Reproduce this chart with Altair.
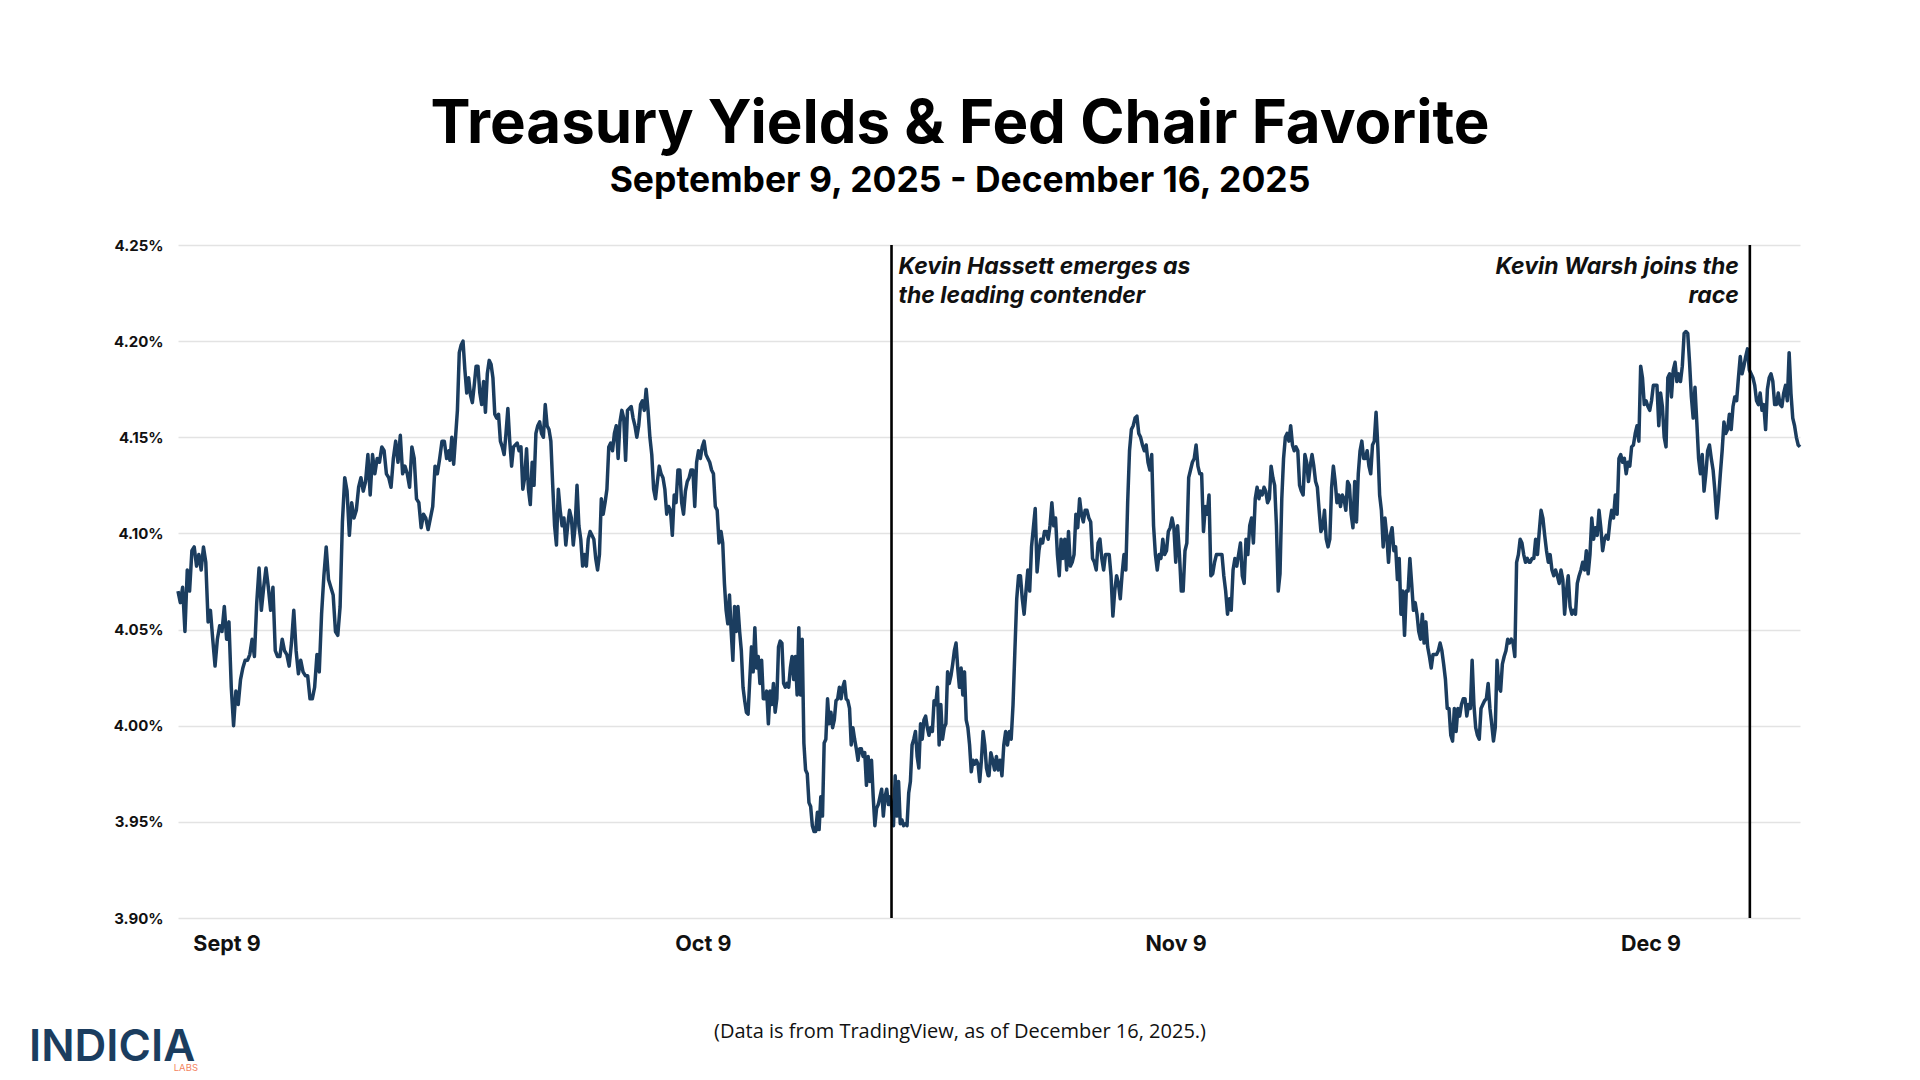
"""Treasury yields vs Fed chair favourite line chart."""

import altair as alt
import numpy as np
import pandas as pd

# 10Y yield (%), in six consecutive stretches of the window
seg_1 = [
    4.070, 4.064, 4.072, 4.049, 4.081, 4.070, 4.091, 4.093, 4.083, 4.089, 4.081, 4.093,
    4.085, 4.054, 4.060, 4.045, 4.031, 4.045, 4.052, 4.049, 4.062, 4.045, 4.054, 4.020,
    4.000, 4.018, 4.011, 4.024, 4.030, 4.034, 4.034, 4.037, 4.045, 4.036, 4.064, 4.082,
    4.060, 4.072, 4.082, 4.072, 4.060, 4.072, 4.039, 4.036, 4.036, 4.045, 4.039, 4.037,
    4.031, 4.043, 4.060, 4.039, 4.027, 4.034, 4.028, 4.026, 4.026, 4.014, 4.014, 4.020,
    4.037, 4.028, 4.058, 4.078, 4.093, 4.076, 4.072, 4.068, 4.049, 4.047, 4.062, 4.106,
    4.129, 4.122, 4.099, 4.116, 4.108, 4.112, 4.124, 4.129, 4.122, 4.127, 4.141, 4.120,
    4.141, 4.131, 4.139, 4.137, 4.145, 4.143, 4.131, 4.129, 4.124, 4.139, 4.148, 4.137,
    4.151, 4.131, 4.135, 4.131, 4.124, 4.145, 4.139, 4.118, 4.116, 4.103, 4.110, 4.108,
    4.102, 4.108, 4.114, 4.135, 4.131, 4.139, 4.148, 4.148, 4.139, 4.143,
]
seg_2 = [
    4.138, 4.150, 4.136, 4.150, 4.164, 4.194, 4.198, 4.200, 4.185, 4.173, 4.181, 4.172,
    4.168, 4.177, 4.187, 4.187, 4.173, 4.167, 4.179, 4.163, 4.183, 4.190, 4.188, 4.181,
    4.162, 4.160, 4.162, 4.148, 4.145, 4.141, 4.152, 4.165, 4.148, 4.135, 4.145, 4.146,
    4.147, 4.143, 4.145, 4.123, 4.129, 4.144, 4.123, 4.115, 4.137, 4.125, 4.152, 4.156,
    4.158, 4.152, 4.150, 4.167, 4.156, 4.154, 4.148, 4.125, 4.104, 4.094, 4.123, 4.112,
    4.104, 4.108, 4.094, 4.104, 4.112, 4.108, 4.094, 4.104, 4.125, 4.104, 4.097, 4.083,
    4.089, 4.083, 4.097, 4.101, 4.099, 4.097, 4.087, 4.081, 4.089, 4.118, 4.110, 4.116,
    4.123, 4.145, 4.147, 4.143, 4.152, 4.156, 4.139, 4.158, 4.164, 4.160, 4.138, 4.164,
    4.165, 4.166, 4.160, 4.156, 4.150, 4.156, 4.167, 4.169, 4.164, 4.175, 4.164, 4.150,
    4.141, 4.123, 4.118, 4.127, 4.135, 4.131, 4.129, 4.123, 4.110, 4.114, 4.112, 4.099,
    4.120, 4.116, 4.133, 4.133, 4.116, 4.110, 4.122, 4.127, 4.129, 4.133, 4.133, 4.114,
    4.137, 4.143, 4.139, 4.145, 4.148, 4.141, 4.139, 4.137, 4.133, 4.131, 4.114, 4.112,
    4.095,
]
seg_3 = [
    4.101, 4.095, 4.074, 4.060, 4.053, 4.068, 4.049, 4.034, 4.062, 4.049, 4.062, 4.049,
    4.039, 4.020, 4.013, 4.007, 4.006, 4.024, 4.041, 4.028, 4.051, 4.030, 4.036, 4.022,
    4.034, 4.014, 4.014, 4.018, 4.001, 4.018, 4.011, 4.022, 4.007, 4.014, 4.041, 4.044,
    4.043, 4.022, 4.020, 4.022, 4.020, 4.030, 4.036, 4.024, 4.036, 4.016, 4.051, 4.016,
    4.045, 3.991, 3.977, 3.975, 3.960, 3.958, 3.948, 3.945, 3.945, 3.955, 3.946, 3.963,
    3.953, 3.991, 3.993, 4.014, 4.001, 4.007, 3.999, 4.003, 4.013, 4.014, 4.020, 4.014,
    4.020, 4.023, 4.014, 4.013, 4.009, 3.990, 3.999, 3.993, 3.988, 3.982, 3.988, 3.988,
    3.984, 3.986, 3.969, 3.984, 3.971, 3.982, 3.963, 3.948, 3.957, 3.959, 3.963, 3.967,
    3.953, 3.963, 3.967, 3.959, 3.963, 3.957, 3.948, 3.974, 3.953, 3.971, 3.949, 3.951,
    3.948, 3.949, 3.948, 3.965, 3.971, 3.990, 3.993, 3.997, 3.984, 3.978, 4.001, 3.993,
    4.003, 4.005, 3.999, 3.995, 3.999, 3.997, 4.013, 4.011, 4.020, 3.990, 4.011, 3.993,
    3.999, 4.001, 4.028, 4.022, 4.026, 4.032, 4.039, 4.043, 4.030, 4.020, 4.030, 4.016,
    4.028, 4.003, 3.999, 3.990, 3.976, 3.982, 3.980, 3.982, 3.980, 3.971, 3.982, 3.997,
    3.990, 3.978, 3.974,
]
seg_4 = [
    3.974, 3.986, 3.982, 3.977, 3.984, 3.977, 3.982, 3.974, 3.990, 3.997, 3.990, 3.997,
    3.993, 4.011, 4.039, 4.066, 4.078, 4.078, 4.066, 4.058, 4.070, 4.081, 4.070, 4.093,
    4.103, 4.113, 4.080, 4.091, 4.097, 4.095, 4.101, 4.101, 4.097, 4.104, 4.116, 4.104,
    4.108, 4.089, 4.078, 4.097, 4.087, 4.097, 4.081, 4.101, 4.083, 4.085, 4.089, 4.110,
    4.103, 4.118, 4.110, 4.106, 4.112, 4.112, 4.108, 4.106, 4.087, 4.085, 4.081, 4.095,
    4.097, 4.087, 4.081, 4.089, 4.089, 4.089, 4.078, 4.057, 4.070, 4.078, 4.074, 4.066,
    4.079, 4.089, 4.081, 4.116, 4.143, 4.154, 4.156, 4.160, 4.161, 4.152, 4.150, 4.146,
    4.143, 4.146, 4.137, 4.133, 4.141, 4.104, 4.089, 4.081, 4.089, 4.087, 4.097, 4.089,
    4.091, 4.101, 4.103, 4.108, 4.103, 4.085, 4.104, 4.089, 4.070, 4.070, 4.091, 4.095,
    4.129, 4.133, 4.137, 4.139, 4.146, 4.135, 4.131, 4.131, 4.101, 4.114, 4.110, 4.120,
    4.078, 4.079, 4.085, 4.089, 4.089, 4.089, 4.089, 4.078, 4.070, 4.058, 4.066, 4.060,
    4.081, 4.087, 4.083, 4.089, 4.095, 4.078, 4.074, 4.097, 4.089, 4.104, 4.108, 4.095,
    4.118, 4.124, 4.118,
]
seg_5 = [
    4.122, 4.120, 4.124, 4.122, 4.116, 4.118, 4.135, 4.129, 4.125, 4.104, 4.070, 4.079,
    4.118, 4.139, 4.150, 4.152, 4.148, 4.156, 4.146, 4.143, 4.145, 4.143, 4.125, 4.122,
    4.120, 4.141, 4.137, 4.127, 4.135, 4.141, 4.135, 4.127, 4.124, 4.112, 4.101, 4.103,
    4.112, 4.097, 4.093, 4.097, 4.124, 4.135, 4.127, 4.116, 4.120, 4.114, 4.120, 4.118,
    4.112, 4.127, 4.125, 4.110, 4.103, 4.127, 4.106, 4.131, 4.143, 4.148, 4.139, 4.139,
    4.143, 4.135, 4.131, 4.146, 4.148, 4.163, 4.145, 4.120, 4.112, 4.093, 4.108, 4.099,
    4.085, 4.099, 4.103, 4.091, 4.093, 4.076, 4.087, 4.058, 4.070, 4.047, 4.070, 4.070,
    4.087, 4.074, 4.060, 4.064, 4.058, 4.049, 4.045, 4.058, 4.043, 4.054, 4.041, 4.036,
    4.030, 4.037, 4.037, 4.037, 4.039, 4.043, 4.039, 4.032, 4.024, 4.009, 4.009, 3.995,
    3.992, 4.009, 3.997, 4.009, 4.005, 4.011, 4.014, 4.014, 4.005, 4.011, 4.009, 4.034,
    4.011, 3.999, 3.995, 3.993, 4.009, 4.011, 4.013, 4.014, 4.022, 4.009, 4.001, 3.992,
    3.999, 4.034, 4.020, 4.018, 4.032, 4.036, 4.039, 4.045, 4.043, 4.045, 4.043, 4.036,
    4.085, 4.089, 4.097, 4.095, 4.089, 4.085, 4.087, 4.085,
]
seg_6 = [
    4.085, 4.087, 4.087, 4.097, 4.089, 4.101, 4.112, 4.108, 4.099, 4.091, 4.085, 4.089,
    4.081, 4.078, 4.081, 4.078, 4.074, 4.081, 4.076, 4.058, 4.070, 4.078, 4.062, 4.058,
    4.060, 4.058, 4.074, 4.078, 4.081, 4.085, 4.081, 4.091, 4.079, 4.089, 4.108, 4.097,
    4.103, 4.099, 4.112, 4.103, 4.091, 4.097, 4.099, 4.097, 4.106, 4.112, 4.108, 4.120,
    4.110, 4.139, 4.141, 4.137, 4.139, 4.131, 4.137, 4.135, 4.145, 4.146, 4.152, 4.156,
    4.148, 4.187, 4.181, 4.167, 4.169, 4.166, 4.164, 4.169, 4.177, 4.177, 4.177, 4.156,
    4.173, 4.166, 4.150, 4.145, 4.181, 4.183, 4.171, 4.185, 4.189, 4.179, 4.183, 4.179,
    4.187, 4.204, 4.205, 4.204, 4.189, 4.171, 4.160, 4.176, 4.158, 4.139, 4.131, 4.141,
    4.122, 4.131, 4.143, 4.146, 4.139, 4.133, 4.122, 4.108, 4.118, 4.131, 4.143, 4.158,
    4.152, 4.154, 4.162, 4.154, 4.166, 4.171, 4.169, 4.181, 4.192, 4.183, 4.187, 4.192,
    4.196, 4.185, 4.183, 4.181, 4.177, 4.169, 4.167, 4.173, 4.164, 4.167, 4.154, 4.175,
    4.181, 4.183, 4.179, 4.167, 4.167, 4.173, 4.167, 4.166, 4.173, 4.177, 4.169, 4.194,
    4.173, 4.160, 4.156, 4.150, 4.146, 4.145,
]

# Session-day span (days after Sept 9) covered by each stretch
seg_spans = [(0.0, 16.37), (16.43, 32.69), (32.81, 48.95), (49.0, 65.31), (65.4, 81.63), (81.7, 98.0)]

tick_days = [2.93, 31.71, 60.27, 88.97]
tick_labels = ["Sept 9", "Oct 9", "Nov 9", "Dec 9"]

event_days = [43.11, 94.97]
event_labels = ["Kevin Hassett emerges as\nthe leading contender", "Kevin Warsh joins the\nrace"]

y_ticks = [3.90, 3.95, 4.00, 4.05, 4.10, 4.15, 4.20, 4.25]

NAVY = "#1b3d5f"
FONT = "Inter"

frames = []
for seg, (start, end) in zip([seg_1, seg_2, seg_3, seg_4, seg_5, seg_6], seg_spans):
    frames.append(pd.DataFrame({"day": np.linspace(start, end, len(seg)), "yield": seg}))
df = pd.concat(frames, ignore_index=True)

label_expr = " : ".join(
    f"abs(datum.value - {d}) < 0.01 ? '{lab}'" for d, lab in zip(tick_days, tick_labels)
) + " : ''"

line = (
    alt.Chart(df)
    .mark_line(color=NAVY, strokeWidth=3.5, strokeJoin="round")
    .encode(
        x=alt.X(
            "day:Q",
            scale=alt.Scale(domain=[0, 98], nice=False, zero=False),
            axis=alt.Axis(
                values=tick_days,
                labelExpr=label_expr,
                title=None,
                grid=False,
                domain=False,
                ticks=False,
                labelFont=FONT,
                labelFontSize=21.5,
                labelFontWeight="bold",
                labelColor="#111111",
                labelPadding=15,
            ),
        ),
        y=alt.Y(
            "yield:Q",
            scale=alt.Scale(domain=[3.90, 4.25], nice=False, zero=False),
            axis=alt.Axis(
                values=y_ticks,
                labelExpr="format(datum.value, '.2f') + '%'",
                title=None,
                domain=False,
                ticks=False,
                gridColor="#e3e3e3",
                gridWidth=1.4,
                labelFont=FONT,
                labelFontSize=15,
                labelFontWeight="bold",
                labelColor="#111111",
                labelPadding=15,
            ),
        ),
    )
)

events = pd.DataFrame({"day": event_days, "label": event_labels})

rules = alt.Chart(events).mark_rule(color="#000000", strokeWidth=2.6).encode(x="day:Q")

note_style = dict(
    baseline="top",
    font=FONT,
    fontSize=23,
    fontStyle="italic",
    fontWeight="bold",
    lineHeight=29,
    lineBreak="\n",
    color="#111111",
)
note_left = (
    alt.Chart(events.iloc[[0]])
    .mark_text(align="left", dx=7, **note_style)
    .encode(x="day:Q", y=alt.value(11), text="label:N")
)
note_right = (
    alt.Chart(events.iloc[[1]])
    .mark_text(align="right", dx=-11, **note_style)
    .encode(x="day:Q", y=alt.value(11), text="label:N")
)


def page_text(text, x, y, **kw):
    return (
        alt.Chart(pd.DataFrame({"t": [text]}))
        .mark_text(**kw)
        .encode(text="t:N", x=alt.value(x), y=alt.value(y))
    )


title = page_text(
    "Treasury Yields & Fed Chair Favorite", 782, -102,
    font=FONT, fontSize=60, fontWeight="bold", color="#000000", align="center", baseline="alphabetic",
)
subtitle = page_text(
    "September 9, 2025 - December 16, 2025", 782, -53,
    font=FONT, fontSize=35.5, fontWeight="bold", color="#000000", align="center", baseline="alphabetic",
)
footer = page_text(
    "(Data is from TradingView, as of December 16, 2025.)", 782, 793,
    font="Open Sans", fontSize=20, color="#111111", align="center", baseline="alphabetic",
)
logo = page_text(
    "INDICIA", -149, 816,
    font=FONT, fontSize=44, fontWeight=600, color=NAVY, align="left", baseline="alphabetic",
)
logo_sub = page_text(
    "LABS", 20, 826,
    font=FONT, fontSize=9.5, color="#f4845f", align="right", baseline="alphabetic",
)

chart = (
    alt.layer(line, rules, note_left, note_right, title, subtitle, footer, logo, logo_sub)
    .properties(
        width=1622,
        height=673,
        autosize=alt.AutoSizeParams(type="none"),
        padding={"left": 170, "top": 237, "right": 112, "bottom": 154},
        background="#ffffff",
    )
    .configure_view(stroke=None)
)

chart.save("out.html", embed_options={"renderer": "svg", "actions": False})
